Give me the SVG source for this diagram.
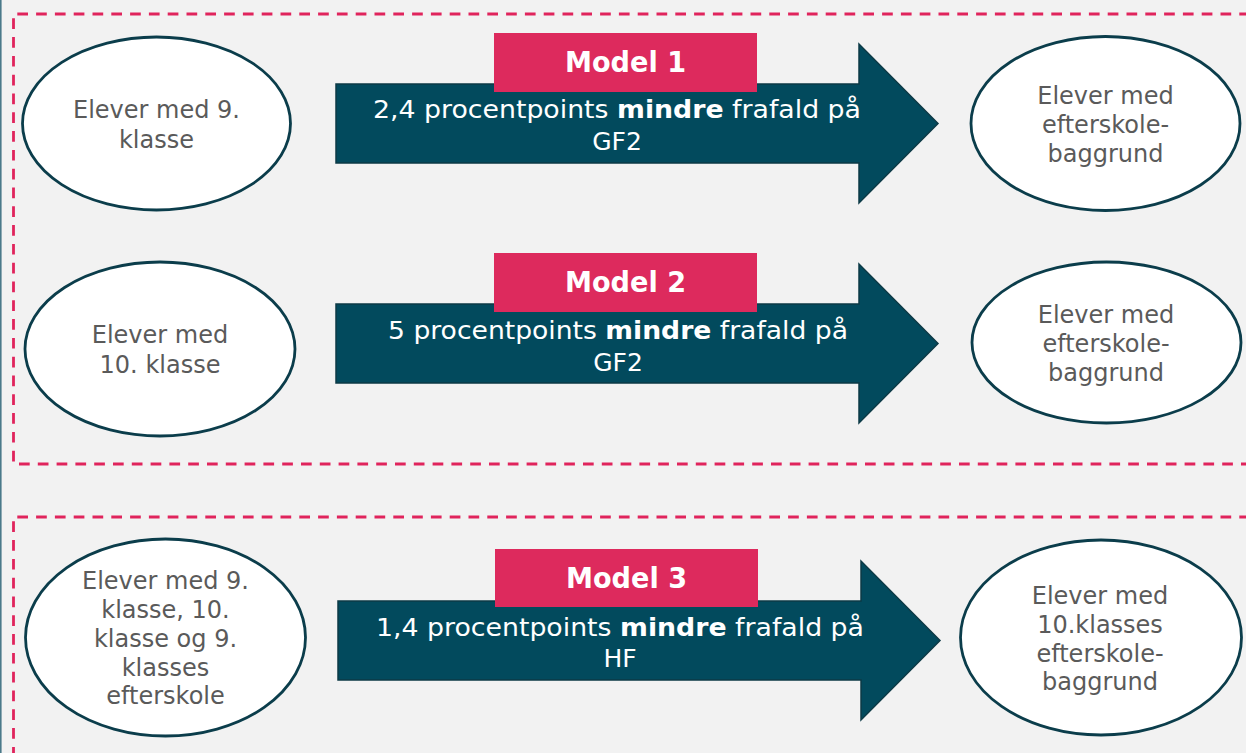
<svg xmlns="http://www.w3.org/2000/svg" width="1246" height="753" viewBox="0 0 1246 753">
<style>
.bg{fill:#f2f2f2}
.frame{fill:none;stroke:#e0245c;stroke-width:2.8;stroke-dasharray:10.7 8.1}
.ell{fill:#ffffff;stroke:#0b3d4b;stroke-width:2.8}
.etx{font-family:"DejaVu Sans",Verdana,sans-serif;font-size:24px;fill:#5a5a5a;text-anchor:middle}
.arrow{fill:#024a5d;stroke:#0d3a46;stroke-width:1.5}
.atx{font-family:"DejaVu Sans",Verdana,sans-serif;font-size:25px;fill:#ffffff;text-anchor:middle}
.mbox{fill:#dd2a5d}
.mtx{font-family:"DejaVu Sans",Verdana,sans-serif;font-size:28px;font-weight:bold;fill:#ffffff;text-anchor:middle}
.b{font-weight:bold}
</style>
<rect class="bg" x="0" y="0" width="1246" height="753"/>
<line x1="0.8" y1="0" x2="0.8" y2="753" stroke="#4a7a8a" stroke-width="1.6"/>
<g id="frames">
<path class="frame" d="M1250 14 H13.5 V464 H1250"/>
<path class="frame" d="M1250 517 H13.5 V760"/>
</g>
<g id="connectors">
<g id="arrow1">
<path class="arrow" d="M336 84 H859 V44 L938 123.5 L859 203 V163 H336 Z"/>
<rect class="mbox" x="494" y="33" width="263" height="59"/>
<text class="mtx" x="625.5" y="72" textLength="121" lengthAdjust="spacingAndGlyphs">Model 1</text>
<text class="atx" x="617" y="118" textLength="488" lengthAdjust="spacingAndGlyphs">2,4 procentpoints <tspan class="b">mindre</tspan> frafald på</text>
<text class="atx" x="617" y="150">GF2</text>
</g>
<g id="arrow2">
<path class="arrow" d="M336 304 H859 V264 L938 343.5 L859 423 V383 H336 Z"/>
<rect class="mbox" x="494" y="253" width="263" height="59"/>
<text class="mtx" x="625.5" y="292" textLength="121" lengthAdjust="spacingAndGlyphs">Model 2</text>
<text class="atx" x="618" y="339" textLength="460" lengthAdjust="spacingAndGlyphs">5 procentpoints <tspan class="b">mindre</tspan> frafald på</text>
<text class="atx" x="618" y="371">GF2</text>
</g>
<g id="arrow3">
<path class="arrow" d="M338 601 H861 V561 L940 640.5 L861 720 V680 H338 Z"/>
<rect class="mbox" x="495" y="549" width="263" height="58"/>
<text class="mtx" x="626.5" y="588" textLength="121" lengthAdjust="spacingAndGlyphs">Model 3</text>
<text class="atx" x="620" y="636" textLength="488" lengthAdjust="spacingAndGlyphs">1,4 procentpoints <tspan class="b">mindre</tspan> frafald på</text>
<text class="atx" x="620" y="667">HF</text>
</g>
</g>
<g id="node-l1">
<ellipse class="ell" cx="156.5" cy="123.5" rx="134" ry="86.5"/>
<text class="etx" x="156.5" y="118">Elever med 9.</text>
<text class="etx" x="156.5" y="148">klasse</text>
</g>
<g id="node-r1">
<ellipse class="ell" cx="1105.5" cy="123.5" rx="134.5" ry="87"/>
<text class="etx" x="1105.5" y="104">Elever med</text>
<text class="etx" x="1105.5" y="133">efterskole-</text>
<text class="etx" x="1105.5" y="162">baggrund</text>
</g>
<g id="node-l2">
<ellipse class="ell" cx="160" cy="349" rx="135" ry="87"/>
<text class="etx" x="160" y="343">Elever med</text>
<text class="etx" x="160" y="373">10. klasse</text>
</g>
<g id="node-r2">
<ellipse class="ell" cx="1106.5" cy="342.5" rx="134.5" ry="80.5"/>
<text class="etx" x="1106" y="323">Elever med</text>
<text class="etx" x="1106" y="352">efterskole-</text>
<text class="etx" x="1106" y="381">baggrund</text>
</g>
<g id="node-l3">
<ellipse class="ell" cx="165.5" cy="637.5" rx="140" ry="98.5"/>
<text class="etx" x="165.5" y="589">Elever med 9.</text>
<text class="etx" x="165.5" y="618">klasse, 10.</text>
<text class="etx" x="165.5" y="647">klasse og 9.</text>
<text class="etx" x="165.5" y="676">klasses</text>
<text class="etx" x="165.5" y="704">efterskole</text>
</g>
<g id="node-r3">
<ellipse class="ell" cx="1101" cy="637.5" rx="140.5" ry="97.5"/>
<text class="etx" x="1100" y="604">Elever med</text>
<text class="etx" x="1100" y="633">10.klasses</text>
<text class="etx" x="1100" y="662">efterskole-</text>
<text class="etx" x="1100" y="690">baggrund</text>
</g>
</svg>
